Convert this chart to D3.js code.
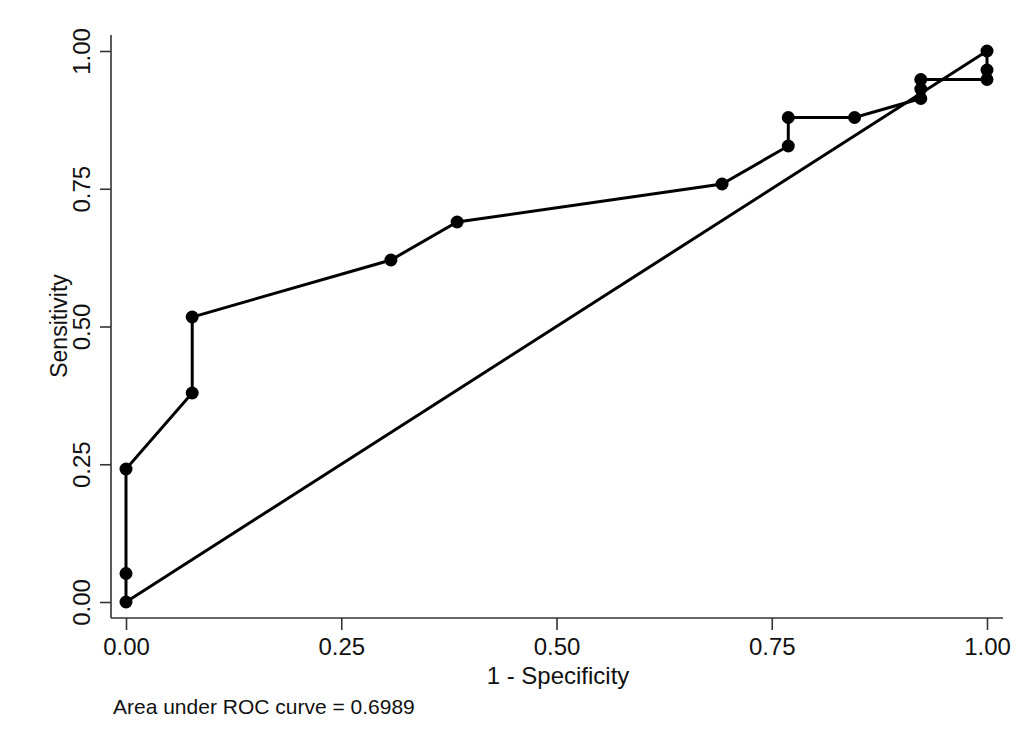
<!DOCTYPE html>
<html><head><meta charset="utf-8">
<script src="https://cdn.jsdelivr.net/npm/d3@7"></script>
<style>body{margin:0;background:#fff}svg{display:block}text{font-family:Arial,"Liberation Sans",sans-serif;fill:#111}</style>
</head><body>
<script>
const fpr = [0, 0, 0, 0.0769, 0.0769, 0.3077, 0.3846, 0.6923, 0.7692, 0.7692, 0.8462, 0.9231, 0.9231, 0.9231, 1, 1, 1];
const tpr = [0, 0.0517, 0.2414, 0.3793, 0.5172, 0.6207, 0.6897, 0.7586, 0.8276, 0.8793, 0.8793, 0.9138, 0.9310, 0.9483, 0.9483, 0.9655, 1];
const ticks = [0, 0.25, 0.5, 0.75, 1];
const xLabel = "1 - Specificity", yLabel = "Sensitivity", note = "Area under ROC curve = 0.6989";

const W = 1019, H = 745;
const svg = d3.select("body").append("svg").attr("width", W).attr("height", H);
const x = d3.scaleLinear().domain([0, 1]).range([126, 987]);
const y = d3.scaleLinear().domain([0, 1]).range([602, 51]);
const axisX0 = 111, axisY0 = 618;
const FONT = "Arial, 'Liberation Sans', sans-serif";

// axes
const gx = svg.append("g").attr("transform", `translate(0,${axisY0})`)
  .call(d3.axisBottom(x).tickValues(ticks).tickFormat(d3.format(".2f")).tickSize(12).tickPadding(4));
gx.select(".domain").remove();
gx.append("line").attr("x1", axisX0).attr("x2", 1003).attr("stroke", "#333").attr("stroke-width", 1.6);
gx.selectAll(".tick line").attr("stroke", "#333").attr("stroke-width", 1.6);
gx.selectAll(".tick text").attr("font-size", 24).attr("fill", "#111").style("font-family", FONT)
  .attr("y", 0).attr("dy", 0).attr("transform", "translate(0,37)");

const gy = svg.append("g").attr("transform", `translate(${axisX0},0)`)
  .call(d3.axisLeft(y).tickValues(ticks).tickFormat(d3.format(".2f")).tickSize(11).tickPadding(4));
gy.select(".domain").remove();
gy.append("line").attr("y1", 35).attr("y2", axisY0).attr("stroke", "#333").attr("stroke-width", 1.6);
gy.selectAll(".tick line").attr("stroke", "#333").attr("stroke-width", 1.6);
gy.selectAll(".tick text").attr("font-size", 24).attr("fill", "#111").style("font-family", FONT)
  .attr("text-anchor", "middle").attr("transform", "rotate(-90)")
  .attr("x", 0).attr("y", -21).attr("dy", "0");

// labels
svg.append("text").attr("x", 558).attr("y", 684).attr("text-anchor", "middle").attr("font-size", 24).text(xLabel);
svg.append("text").attr("transform", "rotate(-90)").attr("x", -326).attr("y", 67).attr("text-anchor", "middle").attr("font-size", 23).text(yLabel);
svg.append("text").attr("x", 113).attr("y", 714).attr("font-size", 21).text(note);

// diagonal
svg.append("line").attr("x1", x(0)).attr("y1", y(0)).attr("x2", x(1)).attr("y2", y(1))
  .attr("stroke", "#000").attr("stroke-width", 3);

// roc curve
const pts = fpr.map((f, i) => [f, tpr[i]]);
svg.append("path").datum(pts)
  .attr("d", d3.line().x(d => x(d[0])).y(d => y(d[1])))
  .attr("fill", "none").attr("stroke", "#000").attr("stroke-width", 3);
svg.selectAll("circle.pt").data(pts).enter().append("circle")
  .attr("cx", d => x(d[0])).attr("cy", d => y(d[1])).attr("r", 6.5).attr("fill", "#000");
</script>
</body></html>
